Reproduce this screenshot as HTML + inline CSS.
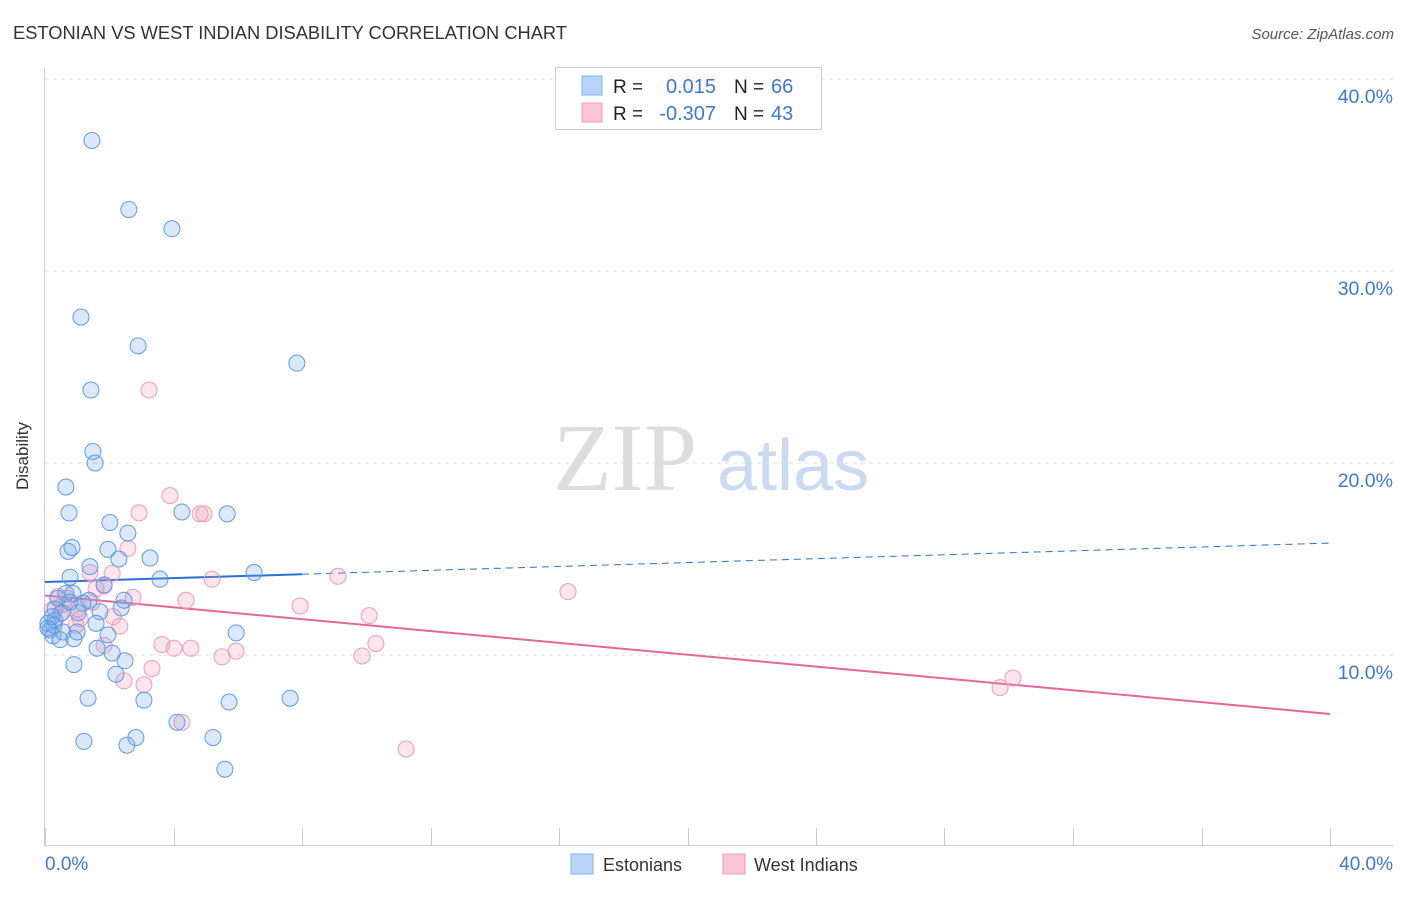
<!DOCTYPE html>
<html><head><meta charset="utf-8"><style>
body{margin:0;background:#fff;font-family:"Liberation Sans",sans-serif;}
svg text{font-family:"Liberation Sans",sans-serif;}
</style></head><body>
<svg id="chart" width="1406" height="892" xmlns="http://www.w3.org/2000/svg">
<text x="13" y="39" font-size="18.3" fill="#333">ESTONIAN VS WEST INDIAN DISABILITY CORRELATION CHART</text>
<text x="1394" y="39" font-size="15" fill="#555" font-style="italic" text-anchor="end">Source: ZipAtlas.com</text>
<g>
<text x="553" y="490" font-size="96" fill="#ddd" font-family="Liberation Serif, serif" style="font-family:'Liberation Serif',serif">ZIP</text>
<text x="717" y="490" font-size="72" fill="#c9daf2">atlas</text>
</g>
<g id="grid"></g>
<g id="axes"></g>
<g id="trends"></g>
<g id="pts"></g>
<text x="28" y="456" font-size="17" fill="#333" text-anchor="middle" transform="rotate(-90 28 456)">Disability</text>
<g>
<rect x="555.5" y="67.5" width="266" height="62" fill="#fff" stroke="#ccc"/>
<rect x="582" y="76" width="20" height="19" fill="#b8d3f5" stroke="#7fb0ea"/>
<rect x="582" y="103" width="20" height="19" fill="#fac6d6" stroke="#f09ab8"/>
<text x="613" y="93" font-size="19" fill="#222">R = </text>
<text x="716" y="93" font-size="20" fill="#3f78d0" text-anchor="end">0.015</text>
<text x="734" y="93" font-size="19" fill="#222">N = </text>
<text x="771" y="93" font-size="20" fill="#3f78d0">66</text>
<text x="613" y="120" font-size="19" fill="#222">R = </text>
<text x="716" y="120" font-size="20" fill="#3f78d0" text-anchor="end">-0.307</text>
<text x="734" y="120" font-size="19" fill="#222">N = </text>
<text x="771" y="120" font-size="20" fill="#3f78d0">43</text>
</g>
<g>
<rect x="571" y="854" width="22" height="20" fill="#b8d3f5" stroke="#7fb0ea"/>
<text x="603" y="871" font-size="18" fill="#333">Estonians</text>
<rect x="723" y="854" width="22" height="20" fill="#fac6d6" stroke="#f09ab8"/>
<text x="754" y="871" font-size="18" fill="#333">West Indians</text>
</g>
</svg>
<script>
const blueX=[1.46,2.61,3.95,1.12,2.90,7.84,1.43,1.49,1.56,0.65,0.75,4.26,5.67,2.02,2.58,0.72,0.84,1.96,2.30,3.27,1.40,6.51,0.78,3.58,1.84,0.65,0.87,1.37,2.46,0.40,1.18,0.31,2.37,0.53,1.03,0.22,0.09,0.28,0.16,1.00,1.96,0.25,0.47,0.90,5.95,1.62,2.09,2.49,0.90,2.21,1.34,3.08,5.73,7.63,4.11,1.21,2.83,2.55,5.23,5.60,0.31,0.09,1.71,0.56,0.78,1.59];
const blueY=[36.8,33.2,32.2,27.6,26.1,25.2,23.8,20.6,20.0,18.75,17.4,17.45,17.35,16.9,16.35,15.4,15.6,15.5,15.0,15.05,14.6,14.3,14.05,13.95,13.65,13.2,13.2,12.85,12.85,12.95,12.7,12.4,12.45,12.2,12.2,12.0,11.65,11.55,11.3,11.2,11.05,11.0,10.8,10.85,11.15,10.35,10.1,9.7,9.5,9.0,7.75,7.65,7.55,7.75,6.5,5.5,5.7,5.3,5.7,4.05,11.8,11.4,12.25,11.2,12.75,11.65];
const pinkX=[3.24,3.89,2.93,4.83,4.95,2.58,1.40,2.09,5.20,1.84,9.12,1.59,16.28,0.40,0.68,2.74,4.39,1.46,7.94,0.56,1.03,0.47,1.09,2.12,2.33,10.09,0.97,3.64,4.02,4.54,5.95,5.51,10.30,9.87,1.84,3.33,2.46,3.08,30.13,29.73,4.26,11.24,0.22];
const pinkY=[23.8,18.3,17.4,17.35,17.35,15.55,14.3,14.25,13.95,13.6,14.1,13.45,13.3,13.05,12.95,13.0,12.85,12.75,12.55,12.65,12.4,12.15,11.9,12.0,11.5,12.05,11.55,10.55,10.35,10.35,10.2,9.9,10.6,9.95,10.5,9.3,8.65,8.45,8.8,8.3,6.5,5.1,12.35];
const blueTrend=[13.8,15.83];
const pinkTrend=[13.1,6.93];
const yTicks=[10,20,30,40];
const xTickLabels=["0.0%","40.0%"];
const NS="http://www.w3.org/2000/svg";
const sx=v=>45+v/40*1285;
const sy=v=>847-v*19.2;
function mk(tag,attrs,parent){const e=document.createElementNS(NS,tag);for(const k in attrs)e.setAttribute(k,attrs[k]);parent.appendChild(e);return e;}
const grid=document.getElementById('grid'),axes=document.getElementById('axes'),trends=document.getElementById('trends'),pts=document.getElementById('pts'),svg=document.getElementById('chart');
yTicks.forEach(t=>{
 const l=mk('line',{x1:45,x2:1393,y1:sy(t),y2:sy(t),stroke:'#ddd','stroke-dasharray':'4,4'},grid);
 
 
 const tx=mk('text',{x:1393,y:sy(t)+24,'font-size':19.5,fill:'#3f78d0','text-anchor':'end'},svg);
 tx.textContent=t.toFixed(1)+'%';
 
 
});
mk('line',{x1:44.5,x2:44.5,y1:68,y2:845,stroke:'#ccc'},axes);
mk('line',{x1:44,x2:1393,y1:845.5,y2:845.5,stroke:'#ccc'},axes);
for(let i=0;i<=10;i++){const x=Math.round(sx(i*4))+0.5;mk('line',{x1:x,x2:x,y1:828,y2:845,stroke:'#ccc'},axes);}
xTickLabels.forEach((s,i)=>{
 const tx=mk('text',{x:i?1393:45,y:870,'font-size':19,fill:'#3f78d0','text-anchor':i?'end':'start'},svg);
 tx.textContent=s;
 
 
});
function dots(X,Y,fill,stroke,name){X.forEach((x,i)=>{
 const c=mk('circle',{cx:sx(x),cy:sy(Y[i]),r:8,fill:fill,stroke:stroke,'stroke-width':1},pts);
 
 
});}
dots(pinkX,pinkY,'rgba(244,150,185,0.25)','#f09ab8','west-indian-point');
dots(blueX,blueY,'rgba(110,165,235,0.25)','#5f9be2','estonian-point');
const bt=v=>blueTrend[0]+(blueTrend[1]-blueTrend[0])*v/40;
const b1=mk('line',{x1:sx(0),y1:sy(bt(0)),x2:sx(8),y2:sy(bt(8)),stroke:'#2a6fd6','stroke-width':2},trends);


const b2=mk('line',{x1:sx(8),y1:sy(bt(8)),x2:sx(40),y2:sy(bt(40)),stroke:'#2a6fd6','stroke-width':1,'stroke-dasharray':'7,5'},trends);


const p1=mk('line',{x1:sx(0),y1:sy(pinkTrend[0]),x2:sx(40),y2:sy(pinkTrend[1]),stroke:'#e8659a','stroke-width':2},trends);


</script>
</body></html>
